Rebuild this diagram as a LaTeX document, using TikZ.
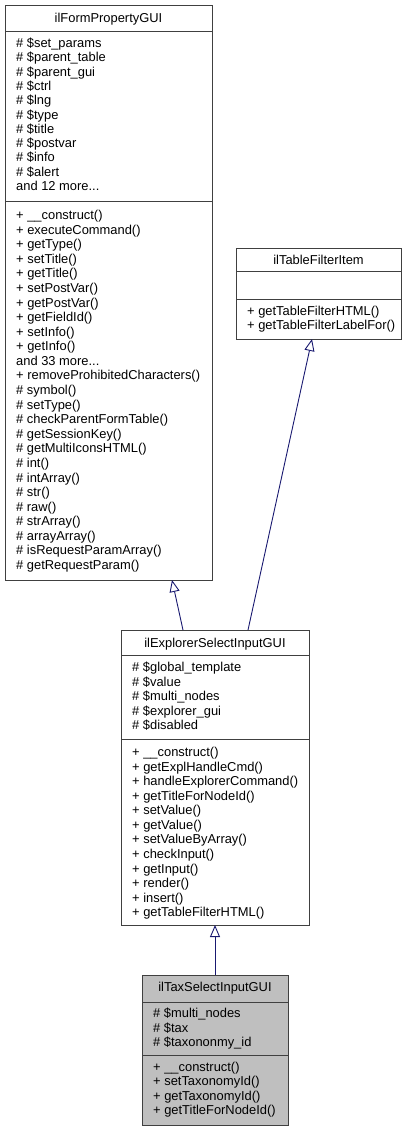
\documentclass[tikz,border=0pt]{standalone}
\usepackage{fontspec}
\setmainfont{Liberation Sans}
\usetikzlibrary{arrows.meta}
\definecolor{edgeblue}{HTML}{191970}
\definecolor{boxline}{HTML}{404040}
\definecolor{taxfill}{HTML}{BFBFBF}
\newcommand\mydots{...}
\begin{document}
\begin{tikzpicture}[x=1pt,y=-1pt,
  font=\fontsize{12.9}{14.5}\selectfont,
  classbox/.style={draw=boxline, line width=1pt, inner sep=0pt, anchor=north west},
  sepline/.style={draw=boxline, line width=1pt},
  txt/.style={anchor=base west, inner sep=0pt},
  ttl/.style={anchor=base, inner sep=0pt},
  inh/.style={draw=edgeblue, line width=0.9pt, -{Triangle[open, length=12pt, width=10pt]}}]
\useasboundingbox (0,0) rectangle (413,1131);

% boxes
\node[classbox, minimum width=207pt, minimum height=575pt] (fp) at (5,5) {};
\node[classbox, minimum width=165pt, minimum height=91pt] (tf) at (236,248) {};
\node[classbox, minimum width=188pt, minimum height=295pt] (ex) at (121,630) {};
\node[classbox, fill=taxfill, minimum width=146pt, minimum height=150pt] (tx) at (142,975) {};

% separators
\draw[sepline] (fp.north west) ++(0,27) -- ++(207,0);
\draw[sepline] (fp.north west) ++(0,197) -- ++(207,0);
\draw[sepline] (tf.north west) ++(0,24) -- ++(165,0);
\draw[sepline] (tf.north west) ++(0,51) -- ++(165,0);
\draw[sepline] (ex.north west) ++(0,25) -- ++(188,0);
\draw[sepline] (ex.north west) ++(0,109) -- ++(188,0);
\draw[sepline] (tx.north west) ++(0,27) -- ++(146,0);
\draw[sepline] (tx.north west) ++(0,80) -- ++(146,0);

% titles
\node[ttl] (fpt) at (108.5,22.6) {ilFormPropertyGUI};
\node[ttl] (tft) at (318.5,264.6) {ilTableFilterItem};
\node[ttl] (ext) at (215,647.6) {ilExplorerSelectInputGUI};
\node[ttl] (txt0) at (215,991.6) {ilTaxSelectInputGUI};

% ilFormPropertyGUI
\foreach \t [count=\i from 0] in {\# \$set\_params,\# \$parent\_table,\# \$parent\_gui,\# \$ctrl,\# \$lng,\# \$type,\# \$title,\# \$postvar,\# \$info,\# \$alert,and 12 more\mydots}
  \node[txt] (fpa\i) at (16,47.6+\i*14.3) {\t};
\foreach \t [count=\i from 0] in {+ \_\_construct(),+ executeCommand(),+ getType(),+ setTitle(),+ getTitle(),+ setPostVar(),+ getPostVar(),+ getFieldId(),+ setInfo(),+ getInfo(),and 33 more\mydots,+ removeProhibitedCharacters(),\# symbol(),\# setType(),\# checkParentFormTable(),\# getSessionKey(),\# getMultiIconsHTML(),\# int(),\# intArray(),\# str(),\# raw(),\# strArray(),\# arrayArray(),\# isRequestParamArray(),\# getRequestParam()}
  \node[txt] (fpm\i) at (16,219.6+\i*14.58) {\t};

% ilTableFilterItem
\node[txt] (tfm0) at (247,315.6) {+ getTableFilterHTML()};
\node[txt] (tfm1) at (247,329.6) {+ getTableFilterLabelFor()};

% ilExplorerSelectInputGUI
\foreach \t [count=\i from 0] in {\# \$global\_template,\# \$value,\# \$multi\_nodes,\# \$explorer\_gui,\# \$disabled}
  \node[txt] (exa\i) at (132,671.6+\i*14.5) {\t};
\foreach \t [count=\i from 0] in {+ \_\_construct(),+ getExplHandleCmd(),+ handleExplorerCommand(),+ getTitleForNodeId(),+ setValue(),+ getValue(),+ setValueByArray(),+ checkInput(),+ getInput(),+ render(),+ insert(),+ getTableFilterHTML()}
  \node[txt] (exm\i) at (132,756.6+\i*14.55) {\t};

% ilTaxSelectInputGUI
\foreach \t [count=\i from 0] in {\# \$multi\_nodes,\# \$tax,\# \$taxononmy\_id}
  \node[txt] (txa\i) at (153,1017.6+\i*14.4) {\t};
\foreach \t [count=\i from 0] in {+ \_\_construct(),+ setTaxonomyId(),+ getTaxonomyId(),+ getTitleForNodeId()}
  \node[txt] (txm\i) at (153,1071.6+\i*14.2) {\t};

% connector end points
\coordinate (fpB) at (172,580);
\coordinate (exT1) at (183,630);
\coordinate (tfB) at (312,339);
\coordinate (exT2) at (248,630);
\coordinate (exB) at (215,925);
\coordinate (txT) at (215,975);

\draw[inh] (exT1) -- (fpB);
\draw[inh] (exT2) -- (tfB);
\draw[inh] (txT) -- (exB);
\end{tikzpicture}
\end{document}
